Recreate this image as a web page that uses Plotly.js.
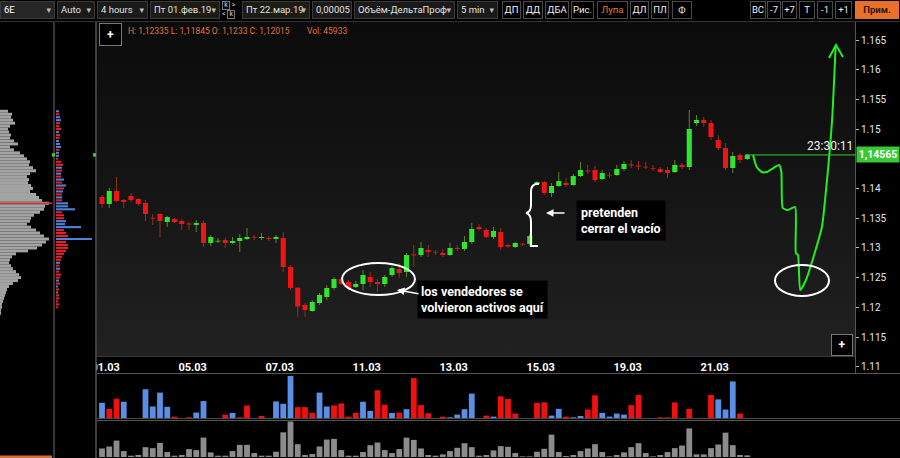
<!DOCTYPE html>
<html><head><meta charset="utf-8">
<script src="https://cdn.plot.ly/plotly-3.0.1.min.js"></script>
<style>
html,body{margin:0;padding:0;background:#000;width:900px;height:458px;overflow:hidden;}
#bg{position:absolute;left:97px;top:22px;width:758px;height:335px;background:linear-gradient(180deg,#0b0b0b 0%,#141414 45%,#212121 100%);}
#chart{position:absolute;left:0;top:0;width:900px;height:458px;}
#tb{position:absolute;left:0;top:0;width:900px;height:21px;background:#000;font-family:Roboto,"DejaVu Sans",sans-serif;font-size:9.5px;color:#e0e0e0;}
.b{position:absolute;top:1px;height:18px;box-sizing:border-box;border:1px solid #3a3a3a;background:#1a1a1a;line-height:16px;padding-left:3px;white-space:nowrap;overflow:hidden;}
.dd::after{content:"\25BE";position:absolute;right:3px;top:0;color:#bbb;font-size:9px;}
.dt{background:#1c1c12;}
.bt{background:#000;border-color:#4a4a4a;text-align:center;padding-left:0;color:#eee;}
.kk{position:absolute;top:1px;left:222px;width:18px;height:18px;font-size:7px;line-height:8px;color:#ddd;}
.kk span{display:inline-block;border:1px solid #777;width:6px;height:7px;text-align:center;line-height:7px;}
</style></head>
<body>
<div id="bg"></div>
<div id="chart"></div>
<div id="tb">
 <div class="b dd" style="left:0;width:55px;background:#262626;color:#fff">6E</div>
 <div class="b dd" style="left:57px;width:38px">Auto</div>
 <div class="b dd" style="left:97px;width:51px">4 hours</div>
 <div class="b dd dt" style="left:150px;width:70px">Пт 01.фев.19</div>
 <div class="kk"><div><span>k</span> &gt;</div><div>&lt; <span>k</span></div></div>
 <div class="b dd dt" style="left:242px;width:68px">Пт 22.мар.19</div>
 <div class="b" style="left:312px;width:40px">0,00005</div>
 <div class="b dd" style="left:354px;width:101px">Объём-ДельтаПроф</div>
 <div class="b dd" style="left:457px;width:41px">5 min</div>
 <div class="b bt" style="left:502px;width:19px">ДП</div>
 <div class="b bt" style="left:523px;width:20px">ДД</div>
 <div class="b bt" style="left:545px;width:24px">ДБА</div>
 <div class="b bt" style="left:571px;width:23px">Рис.</div>
 <div class="b bt" style="left:597px;width:31px;color:#e8782a">Лупа</div>
 <div class="b bt" style="left:630px;width:19px">ДЛ</div>
 <div class="b bt" style="left:651px;width:18px">ПЛ</div>
 <div class="b bt" style="left:672px;width:20px">Ф</div>
 <div class="b bt" style="left:750px;width:16px">ВС</div>
 <div class="b bt" style="left:767px;width:14px">-7</div>
 <div class="b bt" style="left:782px;width:15px">+7</div>
 <div class="b bt" style="left:799px;width:16px">T</div>
 <div class="b bt" style="left:817px;width:16px">-1</div>
 <div class="b bt" style="left:835px;width:17px">+1</div>
 <div class="b" style="left:855px;width:44px;background:#e8702a;border-color:#e8702a;color:#2a1a10;font-weight:bold;text-align:center;padding-left:0">Прим.</div>
</div>
<script>
// ---------- DATA ----------
const dateLabels = ['01.03','05.03','07.03','11.03','13.03','15.03','19.03','21.03'];
const dateTickIdx = [0.5,12.5,24.5,36.5,48.5,60.5,72.5,84.5];
const priceTicks = [1.11,1.115,1.12,1.125,1.13,1.135,1.14,1.15,1.155,1.16,1.165];

const open = [
1.13857,1.13739,1.13958,1.13806,1.13874,1.13823,1.13756,1.13503,1.13571,1.13436,
1.13487,1.13453,1.13411,1.13386,1.13419,1.13083,1.13108,1.13133,1.13083,1.13116,
1.13150,1.13184,1.13167,1.13167,1.13150,1.13167,1.12678,1.12330,1.12039,1.11938,
1.12072,1.12173,1.12325,1.12476,1.12426,1.12342,1.12392,1.12510,1.12426,1.12392,
1.12544,1.12645,1.12594,1.12889,1.12880,1.12965,1.12931,1.12914,1.12880,1.12998,
1.12982,1.13099,1.13352,1.13301,1.13184,1.13268,1.13049,1.13015,1.13066,1.13066,
1.14076,1.14109,1.13924,1.14042,1.14093,1.14059,1.14210,1.14303,1.14311,1.14160,
1.14227,1.14227,1.14328,1.14404,1.14387,1.14362,1.14337,1.14328,1.14311,1.14278,
1.14396,1.14362,1.15103,1.15153,1.15103,1.14817,1.14682,1.14345,1.14564,1.14497];
const high = [
1.13891,1.14008,1.14194,1.13823,1.13924,1.13840,1.13806,1.13571,1.13588,1.13537,
1.13503,1.13487,1.13436,1.13470,1.13453,1.13217,1.13167,1.13167,1.13184,1.13234,
1.13335,1.13217,1.13251,1.13200,1.13217,1.13268,1.12712,1.12335,1.12072,1.12123,
1.12241,1.12375,1.12510,1.12510,1.12460,1.12443,1.12628,1.12594,1.12476,1.12544,
1.12695,1.12746,1.12914,1.13049,1.13099,1.13049,1.12965,1.12982,1.13083,1.13049,
1.13200,1.13419,1.13402,1.13335,1.13352,1.13335,1.13066,1.13099,1.13083,1.13234,
1.14126,1.14126,1.14093,1.14278,1.14177,1.14244,1.14446,1.14396,1.14379,1.14311,
1.14278,1.14396,1.14463,1.14480,1.14463,1.14446,1.14396,1.14362,1.14362,1.14480,
1.14429,1.15322,1.15237,1.15204,1.15153,1.14901,1.14766,1.14614,1.14598,1.14581];
const low = [
1.13672,1.13672,1.13773,1.13672,1.13773,1.13705,1.13453,1.13386,1.13184,1.13352,
1.13419,1.13301,1.13301,1.13268,1.13015,1.13032,1.13083,1.12998,1.13066,1.12931,
1.13133,1.13133,1.13133,1.13116,1.13083,1.12594,1.12291,1.11845,1.11837,1.11921,
1.12039,1.12123,1.12291,1.12375,1.12291,1.12325,1.12291,1.12342,1.12258,1.12342,
1.12510,1.12493,1.12510,1.12678,1.12847,1.12847,1.12880,1.12847,1.12864,1.12948,
1.12948,1.13066,1.13285,1.13167,1.13150,1.12965,1.12998,1.12998,1.13032,1.13032,
1.14059,1.13891,1.13857,1.14025,1.14025,1.14042,1.14194,1.14244,1.14109,1.14143,
1.14177,1.14210,1.14295,1.14345,1.14311,1.14328,1.14295,1.14261,1.14177,1.14261,
1.14328,1.14311,1.15052,1.15035,1.14817,1.14648,1.14311,1.14261,1.14429,1.14480];
const close = [
1.13739,1.13958,1.13790,1.13773,1.13806,1.13739,1.13571,1.13495,1.13453,1.13520,
1.13436,1.13402,1.13394,1.13419,1.13083,1.13184,1.13116,1.13083,1.13116,1.13167,
1.13184,1.13175,1.13184,1.13150,1.13184,1.12678,1.12325,1.12015,1.11955,1.12089,
1.12207,1.12325,1.12476,1.12392,1.12325,1.12392,1.12544,1.12426,1.12392,1.12510,
1.12662,1.12577,1.12880,1.12872,1.12998,1.12931,1.12923,1.12880,1.12998,1.12982,
1.13099,1.13318,1.13318,1.13184,1.13285,1.13015,1.13024,1.13083,1.13057,1.13200,
1.14109,1.13924,1.14042,1.14126,1.14059,1.14210,1.14311,1.14286,1.14143,1.14261,
1.14219,1.14328,1.14412,1.14387,1.14370,1.14354,1.14328,1.14278,1.14261,1.14396,
1.14362,1.15002,1.15153,1.15103,1.14867,1.14682,1.14345,1.14547,1.14480,1.14565];
// delta per bar (contracts, + buyers / - sellers)
const delta = [
4800,-3000,-6000,5100,200,200,8800,3700,7800,3600,
-700,300,-500,1900,5300,300,-100,-1300,1800,-500,
-4000,100,-900,200,5200,4500,12700,-3500,-3500,-1800,
7800,3700,-4000,-4600,-700,-1800,5100,2400,-8500,-4200,
1800,-1900,2900,-12100,-4100,-1700,-100,-700,500,1300,
2900,7500,-200,-1000,700,-6700,-5900,-1600,-100,-100,
-4800,-4900,1000,3000,-700,500,900,-2800,-7000,1800,
700,1600,1300,-4100,-7100,-100,100,-500,-500,-4900,
100,-3000,100,100,-7100,5800,2800,11100,-1600,100];
// total volume per bar (contracts)
const volume = [
30600,37700,58900,21200,4700,7100,35300,31800,50700,17700,
4700,7100,28300,24700,69500,16500,4700,4700,21200,43600,
43600,14100,4700,4700,18800,88400,127200,45933,7100,10600,
37700,62400,64800,24700,4700,4700,17700,42400,51800,24700,
14100,28300,69500,61300,30600,7100,4700,9400,21200,33000,
49500,35300,4700,7100,23600,38900,36500,14100,2400,2400,
18800,29500,80100,17700,3500,7100,21200,30600,45900,17700,
2400,7100,16500,35300,49500,14100,2400,7100,17700,31800,
41200,102500,9400,9400,31800,44800,87200,42400,7100,5900];
// volume profile (left panel)
const profPrice = [
1.1530,1.1525,1.1520,1.1515,1.1510,1.1505,1.1500,1.1495,1.1490,1.1485,
1.1480,1.1475,1.1470,1.1465,1.1460,1.1455,1.1450,1.1445,1.1440,1.1435,
1.1430,1.1425,1.1420,1.1415,1.1410,1.1405,1.1400,1.1395,1.1390,1.1385,
1.1380,1.1375,1.1370,1.1365,1.1360,1.1355,1.1350,1.1345,1.1340,1.1335,
1.1330,1.1325,1.1320,1.1315,1.1310,1.1305,1.1300,1.1295,1.1290,1.1285,
1.1280,1.1275,1.1270,1.1265,1.1260,1.1255,1.1250,1.1245,1.1240,1.1235,
1.1230,1.1225,1.1220,1.1215,1.1210,1.1205,1.1200,1.1195,1.1190];
const profVol = [
8,12,11,13,15,10,8,9,11,10,
14,18,10,14,20,24,27,30,29,33,
36,30,27,29,28,31,33,30,36,39,
42,49,45,44,40,34,31,30,27,31,
36,40,44,49,46,42,37,28,16,12,
10,9,11,13,16,19,21,18,13,9,
7,6,5,4,3,2,2,1,1];
const profDelta = [
3,-3,4,5,-4,-3,-5,3,-4,-3,
3,4,5,-3,3,3,-2,-5,-7,6,
-6,5,-5,8,-6,10,-8,7,-6,6,
-6,12,12,19,-6,-8,-8,10,9,25,
-8,-10,-12,36,-10,-12,-12,-10,-8,-6,
-5,4,-3,4,-3,-5,-4,3,-4,2,
-3,2,-3,-3,-2,-3,-2,0,0];
// hand-drawn projection (bar index, price)
const projIdx = [89.8,90.3,91.0,91.7,92.6,93.4,93.7,93.9,94.6,95.6,95.7,96.0,96.3,97.1,98.3,99.3,100.0,100.7,101.2];
const projPrice = [1.14564,1.14362,1.14278,1.14278,1.14345,1.14396,1.14278,1.13672,1.13638,1.13689,1.12914,1.12880,1.12291,1.12460,1.12914,1.13352,1.14143,1.15153,1.16416];
const hoverBar = 27;
const countdown = '23:30:11';

// ---------- BUILD ----------
const W=900,H=458;
const fx=x=>x/W, fy=y=>1-y/H;
const P=(x,y)=>fx(x)+','+fy(y);
const idx = open.map((_,i)=>i);
const up = idx.map(i=>close[i]>=open[i]);
const UPC='#2fe62f', DNC='#f01414', UPW='#5f7f2a', DNW='#8a3418';
const comma=v=>String(v).replace('.',',');

const traces = [
 {type:'bar',x:idx,base:low,y:idx.map(i=>high[i]-low[i]),width:0.14,
  marker:{color:idx.map(i=>up[i]?UPW:DNW),line:{width:0}},xaxis:'x',yaxis:'y',hoverinfo:'skip'},
 {type:'bar',x:idx,base:idx.map(i=>Math.min(open[i],close[i])),
  y:idx.map(i=>Math.max(Math.abs(close[i]-open[i]),0.00012)),width:0.7,
  marker:{color:idx.map(i=>up[i]?UPC:DNC),line:{width:0}},xaxis:'x',yaxis:'y',hoverinfo:'skip'},
 {type:'bar',x:idx,y:delta.map(Math.abs),width:0.8,
  marker:{color:delta.map(d=>d>0?'#5b8fe6':'#f01010'),line:{width:0}},xaxis:'x',yaxis:'y2',hoverinfo:'skip'},
 {type:'bar',x:idx,y:volume,width:0.8,marker:{color:'#8c8c8c',line:{width:0}},xaxis:'x',yaxis:'y3',hoverinfo:'skip'},
 {type:'bar',orientation:'h',y:profPrice,x:profVol,width:0.0005,
  marker:{color:'#a3a3a3',line:{width:0}},xaxis:'x2',yaxis:'y',hoverinfo:'skip'},
 {type:'bar',orientation:'h',y:profPrice,x:profDelta.map(Math.abs),width:0.00035,
  marker:{color:profDelta.map(d=>d>0?'#4f82dc':'#e8202c'),line:{width:0}},xaxis:'x3',yaxis:'y',hoverinfo:'skip'},
 {type:'scatter',mode:'lines',x:projIdx,y:projPrice,line:{color:'#22ee22',width:2,shape:'spline',smoothing:0.5},
  xaxis:'x',yaxis:'y',hoverinfo:'skip'}
];

const last = close[close.length-1];
const pocPrice = profPrice[profVol.indexOf(Math.max(...profVol))];
const line=(x0,y0,x1,y1,c,w)=>({type:'line',xref:'paper',yref:'paper',x0:fx(x0),y0:fy(y0),x1:fx(x1),y1:fy(y1),line:{color:c,width:w||1},layer:'above'});
const shapes = [
 {type:'rect',xref:'paper',yref:'paper',x0:fx(55),x1:fx(96),y0:fy(357),y1:fy(373),fillcolor:'#000',line:{width:0},layer:'above'},
 line(0,21.5,900,21.5,'#333'),
 line(54,22,54,458,'#4a4a4a',1.5),
 line(96,22,96,458,'#555',1.5),
 line(97,356.5,855,356.5,'#3a3a3a'),
 line(97,373.5,900,373.5,'#555'),
 line(97,418.5,900,418.5,'#4a4a4a'),
 line(97,420.5,900,420.5,'#555'),
 {type:'line',xref:'paper',yref:'y',x0:0,x1:fx(52),y0:pocPrice,y1:pocPrice,line:{color:'#d83030',width:1.5},layer:'above'},
 {type:'line',xref:'paper',yref:'y',x0:fx(745),x1:fx(856),y0:last,y1:last,line:{color:'#30d030',width:1},layer:'above'},
 {type:'rect',xref:'paper',yref:'y',x0:fx(52),x1:fx(55),y0:last-0.0003,y1:last+0.0003,fillcolor:'#30d030',line:{width:0},layer:'above'},
 {type:'rect',xref:'paper',yref:'y',x0:fx(93),x1:fx(96),y0:last-0.0003,y1:last+0.0003,fillcolor:'#30d030',line:{width:0},layer:'above'},
 {type:'rect',xref:'paper',yref:'paper',x0:0,x1:fx(52),y0:0,y1:fy(455.5),fillcolor:'#e06c2a',line:{width:0},layer:'above'},
 {type:'circle',xref:'paper',yref:'paper',x0:fx(342),x1:fx(415),y0:fy(263),y1:fy(295),line:{color:'#fff',width:2},layer:'above'},
 {type:'circle',xref:'paper',yref:'paper',x0:fx(775),x1:fx(829),y0:fy(265),y1:fy(296),line:{color:'#fff',width:2},layer:'above'},
 {type:'path',xref:'paper',yref:'paper',layer:'above',line:{color:'#fff',width:2},
  path:`M${P(539,184)} Q${P(531,183)} ${P(531,192)} L${P(531,205)} Q${P(531,212)} ${P(526,213)} Q${P(531,214)} ${P(531,222)} L${P(531,246)} L${P(538,246)}`},
 {type:'path',xref:'paper',yref:'paper',layer:'above',line:{color:'#22ee22',width:2},
  path:`M${P(829,58)} L${P(836,45)} L${P(843,57)}`}
];

const ann = (o)=>Object.assign({xref:'paper',yref:'paper',showarrow:false,xanchor:'center',yanchor:'middle'},o);
const hb = hoverBar;
const annotations = [
 ann({x:fx(110.5),y:fy(34),text:'<b>+</b>',font:{color:'#fff',size:12},bordercolor:'#777',borderwidth:1,bgcolor:'#000',width:19,height:19}),
 ann({x:fx(842),y:fy(345),text:'<b>+</b>',font:{color:'#fff',size:12},bordercolor:'#777',borderwidth:1,bgcolor:'#000',width:18,height:18}),
 ann({x:fx(126),y:fy(31),xanchor:'left',text:`H: ${comma(high[hb])} L: ${comma(low[hb])} O: ${comma(open[hb])} C: ${comma(close[hb])}`,font:{color:'#e0733a',size:8.5,family:'Roboto'}}),
 ann({x:fx(305),y:fy(31),xanchor:'left',text:`Vol: ${volume[hb]}`,font:{color:'#e0733a',size:8.5,family:'Roboto'}}),
 ann({x:fx(854),y:fy(154),xanchor:'right',yanchor:'bottom',text:countdown,font:{color:'#f0f0f0',size:12,family:'Roboto'},borderpad:0}),
 ann({x:fx(856),yref:'y',y:last,xanchor:'left',text:'<b>'+last.toFixed(5).replace('.',',')+'</b>',font:{color:'#fff',size:10.5,family:'Roboto'},bgcolor:'#38c838',width:40,height:13,borderpad:1}),
 ann({x:fx(576),y:fy(220),xanchor:'left',align:'left',text:'<b>pretenden<br>cerrar el vacío</b>',font:{color:'#fff',size:12.5,family:'Roboto'},bgcolor:'#000',borderpad:4}),
 ann({x:fx(417),y:fy(299),xanchor:'left',align:'left',text:'<b>los vendedores se<br>volvieron activos aquí</b>',font:{color:'#fff',size:12.5,family:'Roboto'},bgcolor:'#000',borderpad:3}),
 {xref:'paper',yref:'paper',x:fx(546),y:fy(213),ax:20,ay:0,text:'',showarrow:true,arrowhead:2,arrowsize:1,arrowwidth:1.5,arrowcolor:'#fff'},
 {xref:'paper',yref:'paper',x:fx(397),y:fy(290),ax:23,ay:4,text:'',showarrow:true,arrowhead:2,arrowsize:1,arrowwidth:1.5,arrowcolor:'#fff'}
];

const layout = {
 width:W,height:H,margin:{l:0,r:0,t:0,b:0},showlegend:false,barmode:'overlay',
 paper_bgcolor:'rgba(0,0,0,0)',plot_bgcolor:'rgba(0,0,0,0)',
 font:{family:'Roboto, DejaVu Sans, sans-serif',color:'#ddd'},
 xaxis:{domain:[fx(97),fx(855)],range:[-0.69,103.86],anchor:'y2',side:'top',tickvals:dateTickIdx,ticktext:dateLabels,
  ticks:'',showgrid:false,zeroline:false,showline:false,
  tickfont:{color:'#fff',size:11,family:'Roboto',weight:'bold'},fixedrange:true},
 yaxis:{domain:[fy(373),fy(22)],range:[1.10894,1.16803],side:'right',anchor:'free',position:fx(855),
  tickvals:priceTicks,ticks:'outside',ticklen:3,tickcolor:'#bbb',showgrid:false,zeroline:false,
  showline:true,linecolor:'#555',tickfont:{color:'#e6e6e6',size:10,family:'Roboto'}},
 yaxis2:{domain:[fy(419),fy(374)],range:[0,13300],anchor:'x',visible:false},
 yaxis3:{domain:[fy(457),fy(421)],range:[0,129000],anchor:'x',visible:false},
 xaxis2:{domain:[0,fx(52)],range:[0,52],anchor:'y',visible:false},
 xaxis3:{domain:[fx(56),fx(94)],range:[0,38],anchor:'y',visible:false},
 shapes:shapes,annotations:annotations
};
Plotly.newPlot('chart',traces,layout,{staticPlot:true,displayModeBar:false});
</script>
</body></html>
